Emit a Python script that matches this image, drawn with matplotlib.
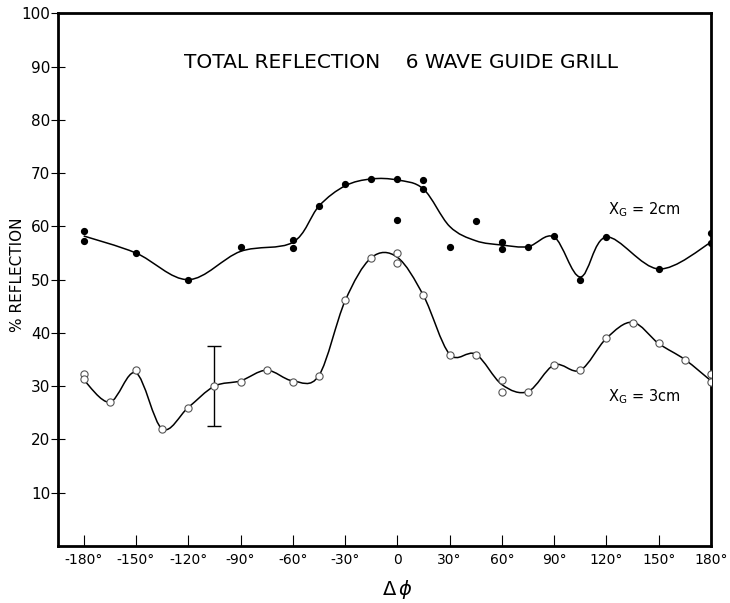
import numpy as np
import matplotlib
matplotlib.use("Agg")
import matplotlib.pyplot as plt
from matplotlib.path import Path
from matplotlib.patches import PathPatch

# measured points, X_G = 2 cm (filled dots)
phi_2cm = [-180, -180, -150, -120, -90, -60, -60, -45, -30, -15, 0, 0, 15, 15,
           30, 45, 60, 60, 75, 90, 105, 120, 150, 180, 180]
refl_2cm = [59.2, 57.2, 55, 50, 56.1, 57.4, 56, 63.8, 68, 68.9, 68.9, 61.2, 68.7, 67,
            56.1, 61, 57.1, 55.7, 56.1, 58.1, 50, 58, 52, 58.7, 56.9]

# hand-drawn curve through the 2 cm data
curve_phi_2cm = [-180, -150, -120, -90, -60, -45, -30, -15, 0, 15, 30, 45, 60, 75, 90, 105, 120, 150, 180]
curve_refl_2cm = [58.2, 55, 50, 55.3, 57, 63.8, 67.6, 68.9, 68.7, 67, 60, 57.3, 56.5, 56.2, 58, 50.5, 58, 52, 57]

# measured points, X_G = 3 cm (open circles)
phi_3cm = [-180, -180, -165, -150, -135, -120, -105, -90, -75, -60, -45, -30, -15, 0, 0,
           15, 30, 45, 60, 60, 75, 90, 105, 120, 135, 150, 165, 180, 180]
refl_3cm = [32.2, 31.4, 27, 33, 22, 26, 30, 30.7, 33.1, 30.8, 32, 46.1, 54.1, 55, 53.1,
            47.2, 35.9, 35.9, 31.1, 29, 28.9, 33.9, 33.1, 39, 41.9, 38.1, 35, 32.3, 30.7]

curve_phi_3cm = [-180, -165, -150, -135, -120, -105, -90, -75, -60, -45, -30, -15, 0, 15,
                 30, 45, 60, 75, 90, 105, 120, 135, 150, 165, 180]
curve_refl_3cm = [31.2, 27, 32.5, 22, 26, 30, 31, 33, 31, 32, 46, 54.1, 54.2, 47,
                  36, 36, 30.3, 29, 34, 33, 39, 42, 38, 35, 31]

# error bar shown on the 3 cm curve
err_phi = -105
err_center = 30
err_half = 7.5

x_ticks = [-180, -150, -120, -90, -60, -30, 0, 30, 60, 90, 120, 150, 180]
y_ticks = [10, 20, 30, 40, 50, 60, 70, 80, 90, 100]


def smooth_path(xs, ys):
    """Catmull-Rom curve through the points, as cubic Bezier segments."""
    pts = np.column_stack([xs, ys]).astype(float)
    ext = np.vstack([pts[0], pts, pts[-1]])
    verts = [tuple(pts[0])]
    codes = [Path.MOVETO]
    for i in range(1, len(ext) - 2):
        p0, p1, p2, p3 = ext[i - 1], ext[i], ext[i + 1], ext[i + 2]
        c1 = p1 + (p2 - p0) / 6.0
        c2 = p2 - (p3 - p1) / 6.0
        verts += [tuple(c1), tuple(c2), tuple(p2)]
        codes += [Path.CURVE4] * 3
    return Path(verts, codes)


fig = plt.figure(figsize=(7.3, 6.03), dpi=100)
ax = fig.add_axes([0.080, 0.0945, 0.894, 0.8835])

for xs, ys in [(curve_phi_2cm, curve_refl_2cm), (curve_phi_3cm, curve_refl_3cm)]:
    ax.add_patch(PathPatch(smooth_path(xs, ys), facecolor="none",
                           edgecolor="black", lw=1.1, zorder=2))

ax.plot(phi_2cm, refl_2cm, "o", ms=4.2, color="black", zorder=3)
ax.plot(phi_3cm, refl_3cm, "o", ms=5.2, mfc="white", mec="#555555", mew=0.8, zorder=3)

ax.errorbar([err_phi], [err_center], yerr=[err_half], fmt="none", ecolor="black",
            elinewidth=1.0, capsize=5, capthick=1.0, zorder=2)

ax.set_xlim(-194.5, 180)
ax.set_ylim(0, 100)
ax.set_xticks(x_ticks)
ax.set_xticklabels(["0" if v == 0 else f"{v}°" for v in x_ticks])
ax.set_yticks(y_ticks)
ax.set_yticklabels([str(v) for v in y_ticks])
ax.tick_params(axis="x", direction="in", length=8, width=0.8, pad=5, labelsize=10)
ax.tick_params(axis="y", direction="inout", length=10, width=0.8, pad=1, labelsize=11)
for sp in ax.spines.values():
    sp.set_linewidth(2.0)

ax.text(2, 90.7, "TOTAL REFLECTION    6 WAVE GUIDE GRILL", ha="center", va="center",
        fontsize=14.5)
ax.text(121, 63.1, r"X$_\mathrm{G}$ = 2cm", ha="left", va="center", fontsize=10.5)
ax.text(121, 28.1, r"X$_\mathrm{G}$ = 3cm", ha="left", va="center", fontsize=10.5)

fig.text(0.024, 0.544, "% REFLECTION", rotation=90, ha="center", va="center", fontsize=11)
fig.text(0.545, 0.022, r"$\Delta\,\phi$", ha="center", va="center", fontsize=14)

fig.savefig("out.png", dpi=100)
